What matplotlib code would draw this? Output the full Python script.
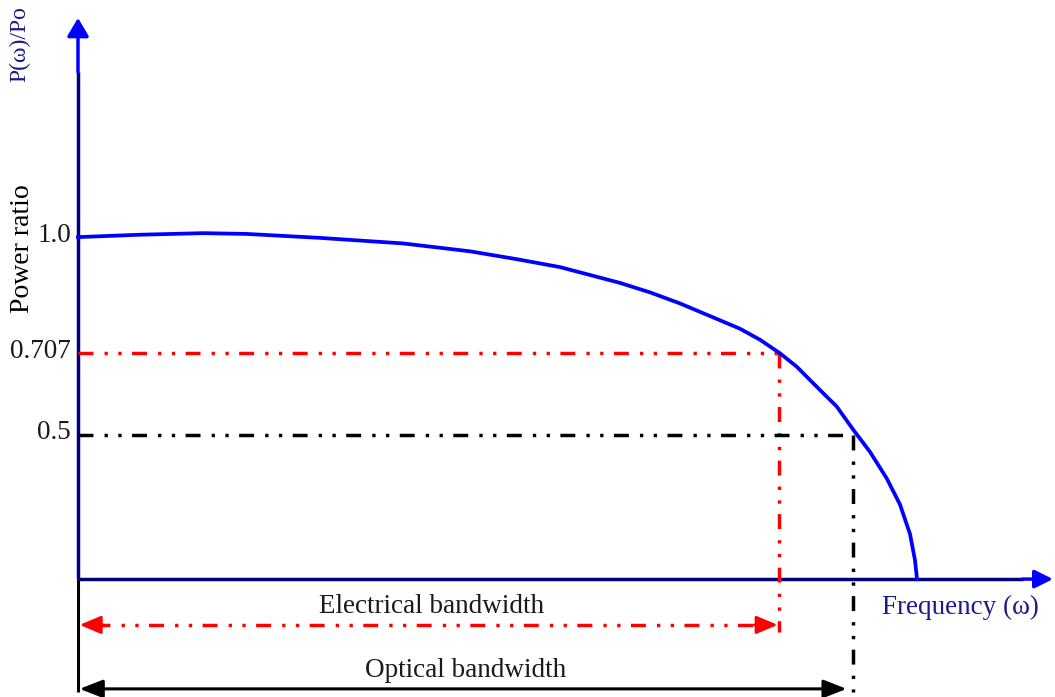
import matplotlib
matplotlib.use("Agg")
import matplotlib.pyplot as plt

# ---- data (normalised frequency, power ratio) ----
freq = [0.0, 0.0739, 0.1490, 0.2014, 0.2884, 0.3874, 0.4672, 0.5232, 0.5745,
        0.6103, 0.6460, 0.6818, 0.7175, 0.7533, 0.7890, 0.8129, 0.8359,
        0.8566, 0.8805, 0.9043, 0.9241, 0.9440, 0.9639, 0.9797, 0.9917,
        0.9976, 1.0]
power = [1.000, 1.006, 1.010, 1.008, 0.998, 0.984, 0.964, 0.944, 0.924,
         0.904, 0.884, 0.860, 0.832, 0.800, 0.768, 0.740, 0.707,
         0.672, 0.621, 0.571, 0.512, 0.456, 0.389, 0.323, 0.248,
         0.182, 0.134]
tick_values = [1.0, 0.707, 0.5]
tick_labels = ["1.0", "0.707", "0.5"]
f_electrical = 0.8359   # frequency where P = 0.707
f_optical = 0.9241      # frequency where P = 0.5
p_electrical = 0.707
p_optical = 0.5

# ---- layout constants ----
axis_level = 0.134          # y position of the frequency axis
y_top_navy = 1.418
y_tip = 1.555
y_bottom = -0.152
x_navy_end = 1.126
x_tip = 1.162
y_elec_arrow = 0.018
y_opt_arrow = -0.144

NAVY = "#00007f"
BLUE = "#0000ff"
RED = "#ff0000"
SERIF = ["Liberation Serif", "DejaVu Serif"]

fig = plt.figure(figsize=(10.55, 6.97), dpi=100)
ax = fig.add_axes([0, 0, 1, 1])
ax.set_xlim(-0.09297, 1.16448)
ax.set_ylim(-0.1646, 1.6004)
ax.axis("off")

dash = (0, (4.3, 3.2, 0.96, 3.0, 0.96, 3.0))
lw_axis = 2.5

# vertical axis
ax.plot([0, 0], [axis_level, y_top_navy], color=NAVY, lw=lw_axis, solid_capstyle="butt")
ax.plot([0, 0], [y_bottom, axis_level], color="black", lw=2.2, solid_capstyle="butt")
ax.annotate("", xy=(0, y_tip), xytext=(0, y_top_navy),
            arrowprops=dict(arrowstyle="-|>,head_length=11,head_width=6.5",
                            color=BLUE, lw=lw_axis, shrinkA=0, shrinkB=0,
                            mutation_scale=1))
# horizontal axis
ax.plot([0, x_navy_end], [axis_level, axis_level], color=NAVY, lw=lw_axis,
        solid_capstyle="butt")
ax.annotate("", xy=(x_tip, axis_level), xytext=(x_navy_end, axis_level),
            arrowprops=dict(arrowstyle="-|>,head_length=11,head_width=5.5",
                            color=BLUE, lw=lw_axis, shrinkA=0, shrinkB=0,
                            mutation_scale=1))

# guide lines
ax.plot([0, f_electrical], [p_electrical, p_electrical], color=RED, lw=2.5, ls=dash)
ax.plot([f_electrical, f_electrical], [p_electrical, y_elec_arrow - 0.018],
        color=RED, lw=2.5, ls=dash)
ax.plot([0, f_optical], [p_optical, p_optical], color="black", lw=2.5, ls=dash)
ax.plot([f_optical, f_optical], [p_optical, y_bottom], color="black", lw=2.5, ls=dash)

# response curve
ax.plot(freq, power, color=BLUE, lw=2.7, solid_joinstyle="round", zorder=5)

# electrical bandwidth arrow (dash-dot-dot with heads)
ax.plot([0.02, f_electrical - 0.02], [y_elec_arrow, y_elec_arrow], color=RED,
        lw=2.5, ls=dash)
for tip, tail in [(0.002, 0.03), (f_electrical - 0.002, f_electrical - 0.03)]:
    ax.annotate("", xy=(tip, y_elec_arrow), xytext=(tail, y_elec_arrow),
                arrowprops=dict(arrowstyle="-|>,head_length=13,head_width=5.5",
                                color=RED, lw=2.0, shrinkA=0, shrinkB=0,
                                mutation_scale=1))

# optical bandwidth arrow
ax.annotate("", xy=(0.002, y_opt_arrow), xytext=(f_optical - 0.008, y_opt_arrow),
            arrowprops=dict(arrowstyle="<|-|>,head_length=14,head_width=5.5",
                            color="black", lw=2.2, shrinkA=0, shrinkB=0,
                            mutation_scale=1))

# tick labels
for v, lab in zip(tick_values, tick_labels):
    ax.text(-0.0085, v + 0.004, lab, ha="right", va="center", fontsize=19.5,
            family=SERIF, color="#1a1a1a")

ax.text(-0.0662, 0.972, "Power ratio", rotation=90, ha="center", va="center",
        fontsize=20, family=SERIF, color="black")
ax.text(-0.0690, 1.488, "P(ω)/Po", rotation=90, ha="center", va="center",
        fontsize=17, family=SERIF, color="#1a1a8a")
ax.text(0.9583, 0.062, "Frequency (ω)", ha="left", va="center",
        fontsize=19.5, family=SERIF, color="#1a1a8a")
ax.text(0.4219, 0.064, "Electrical bandwidth", ha="center", va="center",
        fontsize=19.5, family=SERIF, color="#1a1a1a")
ax.text(0.4625, -0.098, "Optical bandwidth", ha="center", va="center",
        fontsize=19.5, family=SERIF, color="#1a1a1a")

fig.savefig("out.png", dpi=100)
